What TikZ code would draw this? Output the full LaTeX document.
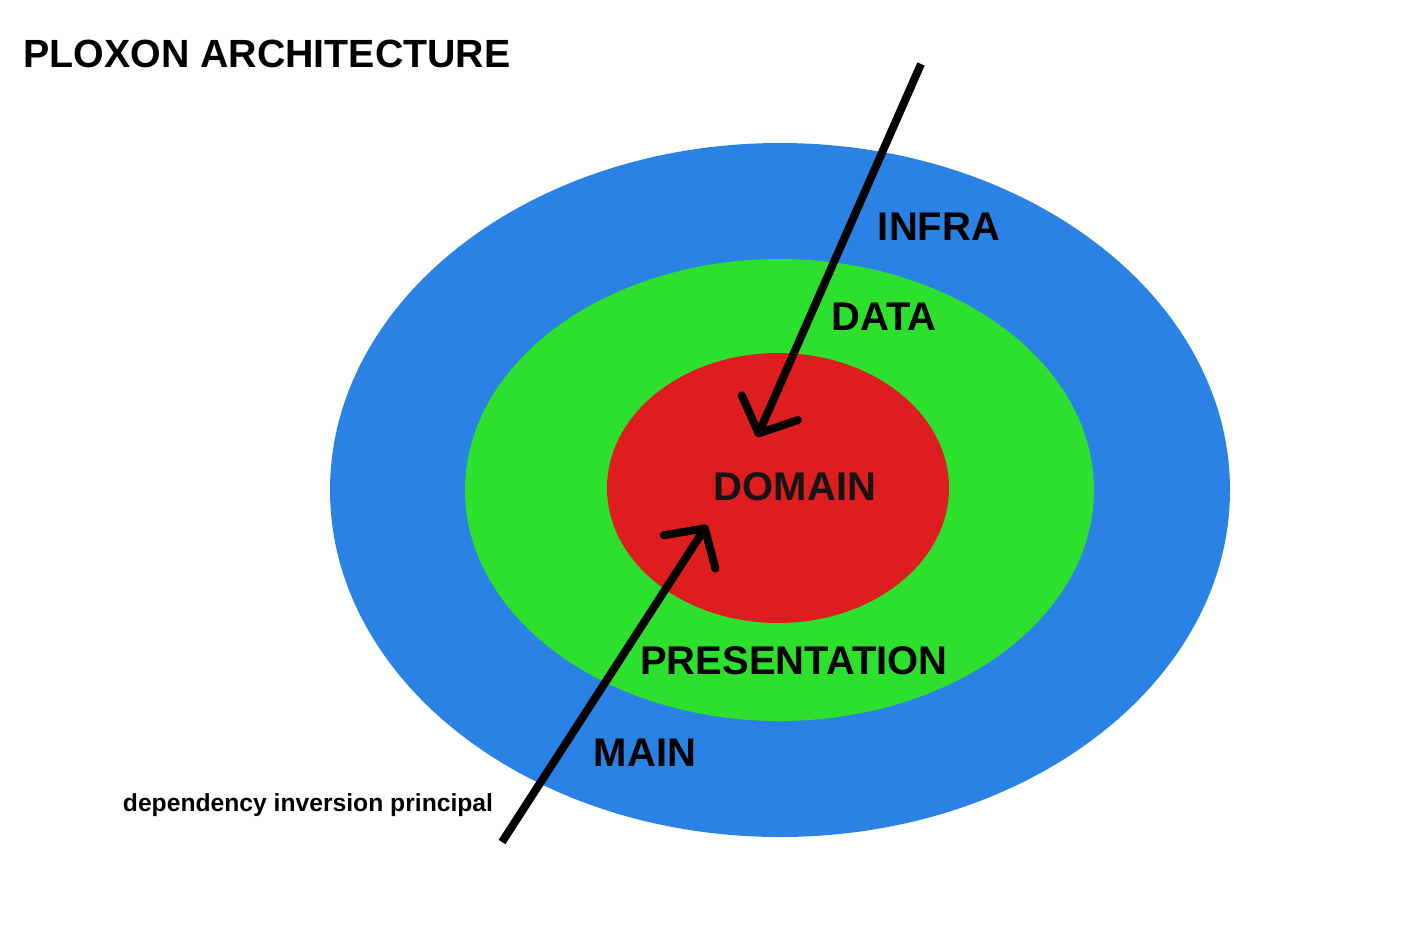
\documentclass[tikz,border=0pt]{standalone}
\usepackage{fontspec}
\setmainfont{Liberation Sans}
\usetikzlibrary{arrows.meta}
\definecolor{infrablue}{RGB}{42,130,228}
\definecolor{datagreen}{RGB}{46,224,46}
\definecolor{domainred}{RGB}{222,30,30}
\tikzset{every picture/.style={line width=0.75pt}}

\begin{document}
\begin{tikzpicture}[x=0.75pt,y=0.75pt,yscale=-1,xscale=1,
  layer/.style={font=\fontsize{30}{35}\selectfont\bfseries, inner sep=0pt},
  dip/.style={line width=6pt, -{Straight Barb[length=21pt,width=46pt,round]}}]
\useasboundingbox (0,0) rectangle (1413,933);

%Shape: Ellipses (layers)
\fill [infrablue] (780,490) ellipse [x radius=450, y radius=347];
\fill [datagreen] (779.5,490) ellipse [x radius=314.5, y radius=231];
\fill [domainred] (778,488) ellipse [x radius=171, y radius=135];

% Text Node
\node (title) at (267,54) [inner sep=0pt] {\fontsize{29.5}{34}\selectfont\bfseries PLOXON ARCHITECTURE};
% Text Node
\node (infra) at (939,227) [layer] {INFRA};
% Text Node
\node (data) at (884,317) [layer] {DATA};
% Text Node
\node (domain) at (795,487) [layer, text=black!92] {DOMAIN};
% Text Node
\node (presentation) at (794,661) [layer] {PRESENTATION};
% Text Node
\node (main) at (645,753) [layer] {MAIN};
% Text Node
\node (dipnote) at (308,805) [inner sep=0pt] {\fontsize{18.5}{22}\selectfont\bfseries dependency inversion principal};

%Arrows: dependencies point inwards
\coordinate (infrastart) at (921,64);
\coordinate (infratip) at (757,437);
\coordinate (mainstart) at (502,842);
\coordinate (maintip) at (707,525);
\draw [dip] (infrastart) -- (infratip);
\draw [dip] (mainstart) -- (maintip);

\end{tikzpicture}
\end{document}
